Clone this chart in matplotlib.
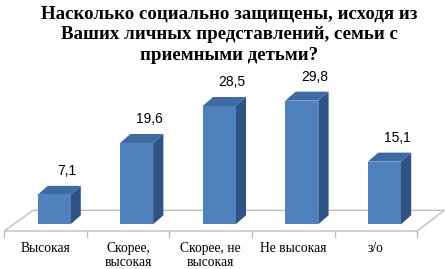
import matplotlib
matplotlib.use("Agg")
import matplotlib.pyplot as plt
from matplotlib.patches import Polygon

title = "Насколько социально защищены, исходя из\nВаших личных представлений, семьи с\nприемными детьми?"
categories = ["Высокая", "Скорее,\nвысокая", "Скорее, не\nвысокая", "Не высокая", "з/о"]
values = [7.1, 19.6, 28.5, 29.8, 15.1]
value_labels = ["7,1", "19,6", "28,5", "29,8", "15,1"]

W, H = 445, 269
fig = plt.figure(figsize=(W / 100, H / 100), dpi=100)
ax = fig.add_axes([0, 0, 1, 1])

# pixel scale of the data axes
PXX = 82.6   # px per category
PXY = 4.15   # px per value unit
x0_px, y0_px = 45.5, 224.3   # category 0 centre, value 0 (front bottom of bars)
ax.set_xlim(-x0_px / PXX, (W - x0_px) / PXX)
ax.set_ylim(-(H - y0_px) / PXY, y0_px / PXY)
ax.axis("off")

def dx(px):
    return px / PXX

def dy(px):
    return px / PXY

n = len(categories)
floor_col = "#BFBFBF"
# floor parallelogram
front_y = -dy(6.7)
back_y = dy(14)
fl = [(-0.5, front_y), (n - 0.5, front_y), (n - 0.5 + dx(27), back_y), (-0.5 + dx(29), back_y)]
ax.add_patch(Polygon(fl, closed=True, facecolor="white", edgecolor=floor_col, lw=1.0, zorder=1))
# ticks on front edge
for i in range(n + 1):
    ax.plot([i - 0.5, i - 0.5], [front_y, front_y - dy(6)], color=floor_col, lw=1.0, zorder=1)

front_col = "#4F81BD"
side_col = "#2F5385"
top_col = "#3D6AA3"
bw = dx(33)
shift = dx(8.5)
ddx, ddy = dx(10.3), dy(9)
xs = [i + shift for i in range(n)]
ax.bar(xs, values, width=bw, color=front_col, zorder=3, linewidth=0)
for x, v, lab in zip(xs, values, value_labels):
    l, r = x - bw / 2, x + bw / 2
    ax.add_patch(Polygon([(r, 0), (r + ddx, ddy), (r + ddx, v + ddy), (r, v)],
                         closed=True, facecolor=side_col, edgecolor="none", zorder=2))
    ax.add_patch(Polygon([(l, v), (r, v), (r + ddx, v + ddy), (l + ddx, v + ddy)],
                         closed=True, facecolor=top_col, edgecolor="none", zorder=4))
    ax.text(x + dx(12.5), v + dy(24), lab, ha="center", va="center",
            fontsize=10, family="Liberation Sans", color="black")

for i, c in enumerate(categories):
    ax.text(i, front_y - dy(11), c, ha="center", va="top", fontsize=9.8,
            family="Liberation Serif", color="black", linespacing=1.1)

fig.text(229 / W, 1 - 5 / H, title, ha="center", va="top", fontsize=13.6,
         fontweight="bold", family="Liberation Serif", linespacing=1.3)

fig.savefig("out.png", dpi=100)
